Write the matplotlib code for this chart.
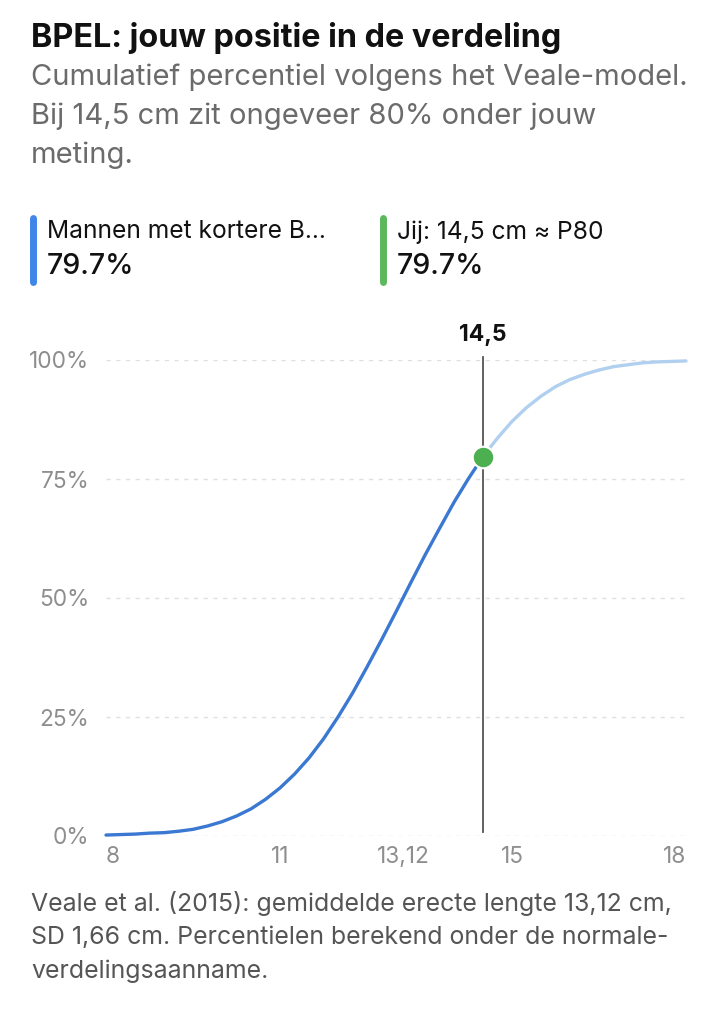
import numpy as np
import matplotlib
matplotlib.use('Agg')
import matplotlib.pyplot as plt
from matplotlib.lines import Line2D

plt.rcParams['font.family'] = ['Inter', 'DejaVu Sans']

# curve (cumulative percentile, %)
lengths = [8.0, 8.25, 8.5, 8.75, 9.0, 9.25, 9.5, 9.75, 10.0, 10.25, 10.5, 10.75,
           11.0, 11.25, 11.5, 11.75, 12.0, 12.25, 12.5, 12.75, 13.0, 13.25, 13.5,
           13.75, 14.0, 14.25, 14.5, 14.75, 15.0, 15.25, 15.5, 15.75, 16.0, 16.25,
           16.5, 16.75, 17.0, 17.25, 17.5, 17.75, 18.0]
percentiles = [0.2, 0.3, 0.4, 0.6, 0.7, 1.0, 1.4, 2.1, 3.0, 4.2, 5.7, 7.7,
               10.1, 13.0, 16.4, 20.4, 25.0, 30.0, 35.5, 41.2, 47.1, 53.1, 59.0,
               64.6, 70.1, 75.1, 79.7, 83.6, 87.1, 90.0, 92.4, 94.4, 95.9, 97.0,
               97.9, 98.6, 99.0, 99.4, 99.6, 99.7, 99.8]

user_length = 14.5
user_pct = 79.7
user_label = '14,5'

y_ticks = [0, 25, 50, 75, 100]
y_labels = ['0%', '25%', '50%', '75%', '100%']
x_ticks = [8, 11, 13.12, 15, 18]
x_labels = ['8', '11', '13,12', '15', '18']

title = 'BPEL: jouw positie in de verdeling'
subtitle = ['Cumulatief percentiel volgens het Veale-model.',
            'Bij 14,5 cm zit ongeveer 80% onder jouw',
            'meting.']
legend_items = [('Mannen met kortere B...', '79.7%', '#3f86e8'),
                ('Jij: 14,5 cm \u2248 P80', '79.7%', '#5cb85c')]
footer = ['Veale et al. (2015): gemiddelde erecte lengte 13,12 cm,',
          'SD 1,66 cm. Percentielen berekend onder de normale-',
          'verdelingsaanname.']

W, H = 714, 1024
fig = plt.figure(figsize=(W / 100, H / 100), dpi=100)
fig.patch.set_facecolor('white')

def fx(px):
    return px / W

def fy(py):
    return 1 - py / H

# header text
fig.text(fx(31), fy(38), title, fontsize=23.3, fontweight='bold', color='#111111',
         va='center', ha='left')
for i, line in enumerate(subtitle):
    fig.text(fx(31), fy(77 + i * 39), line, fontsize=21, color='#6b6b6b',
             va='center', ha='left')

# legend blocks
for i, (lab, val, col) in enumerate(legend_items):
    x0 = 33 + i * 350
    fig.add_artist(Line2D([fx(x0), fx(x0)], [fy(218), fy(282)], color=col,
                          lw=5, solid_capstyle='round'))
    fig.text(fx(x0 + 14), fy(232), lab, fontsize=17.7, color='#111111',
             va='center', ha='left')
    fig.text(fx(x0 + 14), fy(267), val, fontsize=20.6, fontweight='medium',
             color='#111111', va='center', ha='left')

# chart
ax = fig.add_axes([fx(106), fy(836), fx(686) - fx(106), fy(360) - fy(836)])
ax.set_xlim(8, 18)
ax.set_ylim(0, 100)
for s in ax.spines.values():
    s.set_visible(False)

for yt in y_ticks:
    ax.axhline(yt, color='#e0e0e0', lw=1, ls=(0, (3, 4)), zorder=0)

idx = lengths.index(user_length)
ax.plot(lengths[:idx + 1], percentiles[:idx + 1], color='#3a78d2', lw=2.4,
        solid_capstyle='round', clip_on=False, zorder=3)
ax.plot(lengths[idx:], percentiles[idx:], color='#b1d0ef', lw=2.4,
        solid_capstyle='round', clip_on=False, zorder=3)

ax.plot([user_length, user_length], [0.8, 100.6], color='#555555', lw=1.3,
        clip_on=False, zorder=2)
ax.text(user_length, 105.3, user_label, fontsize=16.5, fontweight='bold',
        color='#111111', ha='center', va='center')
ax.scatter([user_length], [user_pct], s=240, color='#4caf50', edgecolor='white',
           linewidth=1.5, zorder=5, clip_on=False)

ax.set_yticks(y_ticks)
ax.set_yticklabels(y_labels)
ax.set_xticks(x_ticks)
ax.set_xticklabels(x_labels)
ax.tick_params(axis='both', length=0, labelsize=16.3, labelcolor='#8e8e8e')
ax.tick_params(axis='y', pad=12)
ax.tick_params(axis='x', pad=7)
xt = ax.get_xticklabels()
xt[0].set_ha('left')
xt[-1].set_ha('right')

for i, line in enumerate(footer):
    fig.text(fx(31), fy(903 + i * 34), line, fontsize=17.9, color='#555555',
             va='center', ha='left')

fig.savefig('out.png', dpi=100, facecolor='white')
